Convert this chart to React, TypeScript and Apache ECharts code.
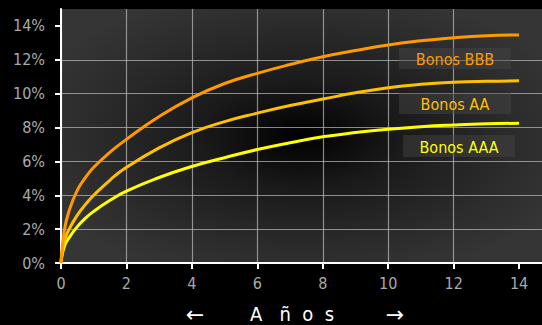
import React, { useEffect, useRef } from "react";
import * as echarts from "echarts";

const years = [0, 0.1, 0.25, 0.5, 0.75, 1, 1.5, 2, 3, 4, 5, 6, 7, 8, 9, 10, 11, 12, 13, 14];
const bonosBBB = [0, 1.9, 3.1, 4.3, 5.05, 5.65, 6.55, 7.3, 8.65, 9.75, 10.6, 11.2, 11.72, 12.18, 12.55, 12.88, 13.12, 13.3, 13.42, 13.47];
const bonosAA = [0, 1.27, 2.0, 2.83, 3.46, 4.0, 4.9, 5.65, 6.8, 7.7, 8.35, 8.85, 9.3, 9.68, 10.05, 10.35, 10.55, 10.67, 10.73, 10.76];
const bonosAAA = [0, 0.95, 1.5, 2.15, 2.65, 3.05, 3.7, 4.25, 5.05, 5.7, 6.22, 6.7, 7.1, 7.45, 7.7, 7.9, 8.05, 8.15, 8.22, 8.25];
const xTicks = [0, 2, 4, 6, 8, 10, 12, 14];
const yTicks = [0, 2, 4, 6, 8, 10, 12, 14];
const seriesNames = ["Bonos BBB", "Bonos AA", "Bonos AAA"];
const seriesColors = ["#ff9900", "#ffc000", "#ffff00"];

const FONT = "'DejaVu Sans Condensed', 'Liberation Sans Narrow', sans-serif";

export default function App() {
  const ref = useRef<HTMLDivElement>(null);
  useEffect(() => {
    if (!ref.current) return;
    const chart = echarts.init(ref.current, null, { renderer: "svg" });
    const all = [bonosBBB, bonosAA, bonosAAA];
    const labelBoxes = [
      { x: 399, y: 48, w: 112, h: 21 },
      { x: 399, y: 93, w: 112, h: 21 },
      { x: 403, y: 135, w: 112, h: 22 },
    ];
    const graphics: any[] = [];
    labelBoxes.forEach((b, i) => {
      graphics.push({
        type: "rect",
        z: 100,
        shape: { x: b.x, y: b.y, width: b.w, height: b.h },
        style: { fill: "rgba(70,70,70,0.45)" },
      });
      graphics.push({
        type: "text",
        z: 101,
        x: b.x + b.w / 2,
        y: b.y + b.h / 2 + 1,
        style: {
          text: seriesNames[i],
          fill: seriesColors[i],
          font: `16px ${FONT}`,
          align: "center",
          verticalAlign: "middle",
        },
      });
    });
    graphics.push({
      type: "text",
      x: 195,
      y: 314,
      style: { text: "←", fill: "#ffffff", font: "22px 'DejaVu Sans'", align: "center", verticalAlign: "middle" },
    });
    graphics.push({
      type: "text",
      x: 395,
      y: 314,
      style: { text: "→", fill: "#ffffff", font: "22px 'DejaVu Sans'", align: "center", verticalAlign: "middle" },
    });
    graphics.push({
      type: "text",
      x: 292,
      y: 314,
      style: { text: "A   ñ  o  s", fill: "#ffffff", font: `20px ${FONT}`, align: "center", verticalAlign: "middle" },
    });

    chart.setOption({
      animation: false,
      backgroundColor: "#000000",
      grid: {
        left: 61,
        top: 9,
        right: 0,
        bottom: 62,
        show: true,
        borderWidth: 0,
        backgroundColor: {
          type: "radial",
          x: 0.5,
          y: 0.5,
          r: 0.6,
          colorStops: [
            { offset: 0, color: "#000000" },
            { offset: 0.35, color: "#1a1a1a" },
            { offset: 0.75, color: "#2c2c2c" },
            { offset: 1, color: "#353535" },
          ],
        },
      },
      xAxis: {
        type: "value",
        min: 0,
        max: 14.7,
        interval: 2,
        axisLine: { show: true, onZero: false, lineStyle: { color: "#ffffff", width: 2 } },
        axisTick: { show: true, length: 6, lineStyle: { color: "#ffffff", width: 2 }, customValues: xTicks },
        axisLabel: { customValues: xTicks, color: "#aaaaaa", fontSize: 16, fontFamily: FONT, margin: 12 },
        splitLine: { show: true, showMaxLine: false, lineStyle: { color: "rgba(190,190,190,0.7)", width: 1.2 } },
      },
      yAxis: {
        type: "value",
        min: 0,
        max: 15,
        interval: 2,
        axisLine: { show: true, onZero: false, lineStyle: { color: "#ffffff", width: 2 } },
        axisTick: { show: true, length: 6, lineStyle: { color: "#ffffff", width: 2 }, customValues: yTicks },
        axisLabel: {
          customValues: yTicks,
          color: "#aaaaaa",
          fontSize: 16,
          fontFamily: FONT,
          margin: 16,
          formatter: "{value}%",
        },
        splitLine: { show: true, showMaxLine: false, lineStyle: { color: "rgba(190,190,190,0.7)", width: 1.2 } },
      },
      series: all.map((vals, i) => ({
        type: "line",
        name: seriesNames[i],
        data: years.map((x, j) => [x, vals[j]]),
        smooth: 0.5,
        showSymbol: false,
        symbol: "none",
        lineStyle: { color: seriesColors[i], width: 3 },
        z: 10 - i,
      })),
      graphic: graphics,
    });
    return () => chart.dispose();
  }, []);
  return <div ref={ref} style={{ width: 542, height: 325, position: "absolute", left: 0, top: 0 }} />;
}
